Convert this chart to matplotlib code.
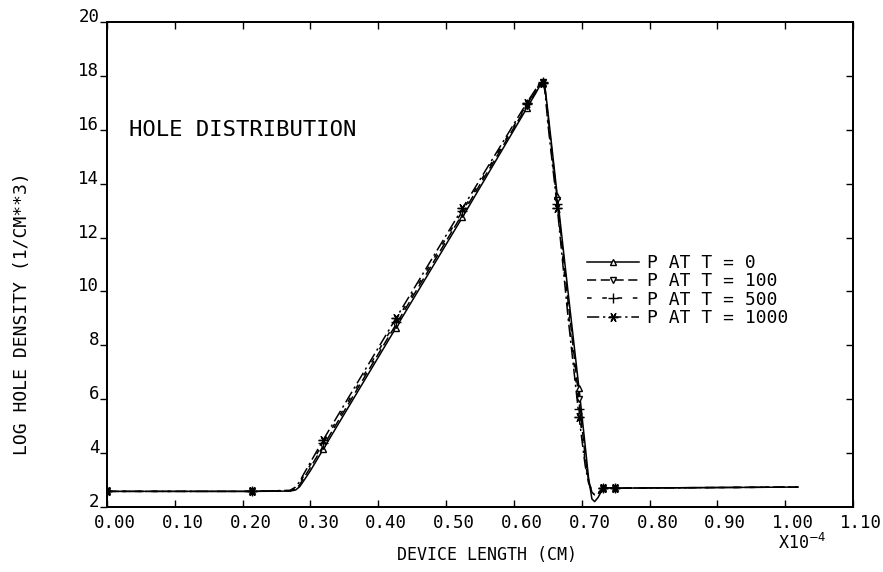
import matplotlib
matplotlib.use('Agg')
import matplotlib.pyplot as plt
import matplotlib.transforms as mtrans

plt.rcParams['font.family'] = ['DejaVu Sans Mono', 'DejaVu Sans']

# ---------------- data ----------------
x_pos = [0.000, 0.214, 0.270, 0.278, 0.284, 0.290, 0.300, 0.319, 0.426, 0.524,
         0.619, 0.632, 0.638, 0.643, 0.646, 0.650, 0.664, 0.680, 0.696, 0.705,
         0.710, 0.715, 0.719, 0.724, 0.732, 0.749, 1.019]
marker_idx = [0, 1, 7, 8, 9, 10, 13, 16, 18, 24, 25]

p_t0 = [2.58, 2.58, 2.59, 2.63, 2.75, 2.97, 3.35, 4.15, 8.65, 12.75,
        16.80, 17.35, 17.62, 17.75, 17.55, 16.70, 13.55, 9.95, 6.40, 4.30,
        3.10, 2.30, 2.20, 2.35, 2.72, 2.70, 2.74]
p_t100 = [2.58, 2.58, 2.60, 2.66, 2.82, 3.07, 3.47, 4.27, 8.77, 12.87,
          16.88, 17.42, 17.68, 17.76, 17.50, 16.55, 13.40, 9.60, 6.00, 3.90,
          3.00, 2.55, 2.45, 2.48, 2.72, 2.70, 2.74]
p_t500 = [2.58, 2.58, 2.61, 2.70, 2.88, 3.15, 3.57, 4.38, 8.88, 12.98,
          16.94, 17.46, 17.70, 17.76, 17.45, 16.40, 13.25, 9.30, 5.65, 3.70,
          2.95, 2.60, 2.50, 2.52, 2.72, 2.70, 2.74]
p_t1000 = [2.58, 2.58, 2.62, 2.74, 2.94, 3.22, 3.66, 4.50, 9.00, 13.08,
           17.00, 17.50, 17.72, 17.75, 17.40, 16.25, 13.10, 9.00, 5.35, 3.55,
           2.90, 2.55, 2.45, 2.48, 2.72, 2.70, 2.74]

series_labels = ['P AT T = 0', 'P AT T = 100', 'P AT T = 500', 'P AT T = 1000']

x_ticks = [0.0, 0.1, 0.2, 0.3, 0.4, 0.5, 0.6, 0.7, 0.8, 0.9, 1.0, 1.1]
x_tick_labels = ['0.00', '0.10', '0.20', '0.30', '0.40', '0.50', '0.60',
                 '0.70', '0.80', '0.90', '1.00', '1.10']
y_ticks = [2, 4, 6, 8, 10, 12, 14, 16, 18, 20]
y_tick_labels = ['2', '4', '6', '8', '10', '12', '14', '16', '18', '20']

# ---------------- figure ----------------
W, H = 883, 572
fig = plt.figure(figsize=(W / 100, H / 100), dpi=100)
ax = fig.add_axes([107 / W, 1 - 507 / H, 746 / W, 485 / H])

styles = ['-', (0, (6, 3)), (0, (3, 7)), (0, (8, 2.5, 1.5, 2.5))]
markers = ['^', 'v', '+', (6, 2, 90)]
sizes = [5, 5, 7, 7]
for ys, ls, mk, ms, lab in zip([p_t0, p_t100, p_t500, p_t1000], styles,
                               markers, sizes, series_labels):
    ax.plot(x_pos, ys, color='black', lw=1.1, linestyle=ls, marker=mk,
            markevery=marker_idx, markersize=ms, markerfacecolor='white',
            markeredgecolor='black', markeredgewidth=1.0, label=lab)

ax.set_xlim(0, 1.1)
ax.set_ylim(2, 20)
ax.set_xticks(x_ticks)
ax.set_xticklabels(x_tick_labels)
ax.set_yticks(y_ticks)
ax.set_yticklabels(y_tick_labels)

ax.tick_params(axis='x', direction='in', length=5, width=1.0, top=True,
               labelsize=12.5, pad=5)
ax.tick_params(axis='y', direction='out', length=5, width=1.0,
               labelsize=12.5, pad=0.5)
for sp in ax.spines.values():
    sp.set_linewidth(1.3)

offset = mtrans.ScaledTranslation(8 / 100, 0, fig.dpi_scale_trans)
for lab in ax.get_xticklabels():
    lab.set_transform(lab.get_transform() + offset)
for lab in ax.get_yticklabels():
    lab.set_verticalalignment('baseline')

ax2 = ax.twinx()
ax2.set_ylim(2, 20)
ax2.set_yticks(y_ticks[1:-1])
ax2.tick_params(axis='y', direction='in', length=5, width=1.0,
                labelright=False)
for sp in ax2.spines.values():
    sp.set_linewidth(1.3)

ax.text(0.033, 16, 'HOLE DISTRIBUTION', fontsize=16, va='center',
        ha='left')

fig.text(22 / W, 1 - 314 / H, 'LOG HOLE DENSITY (1/CM**3)', rotation=90,
         ha='center', va='center', fontsize=13)
fig.text(487 / W, 1 - 555 / H, 'DEVICE LENGTH (CM)', ha='center',
         va='center', fontsize=12)
fig.text(778 / W, 1 - 549 / H, 'X10$^{-4}$', ha='left', va='baseline',
         fontsize=12)

leg = ax.legend(loc='upper left', bbox_to_anchor=(587 / W, 1 - 254 / H),
                bbox_transform=fig.transFigure, frameon=False, fontsize=13,
                handlelength=2.9, handletextpad=0.4, labelspacing=0.02,
                borderpad=0, borderaxespad=0)

fig.savefig('out.png', dpi=100)
